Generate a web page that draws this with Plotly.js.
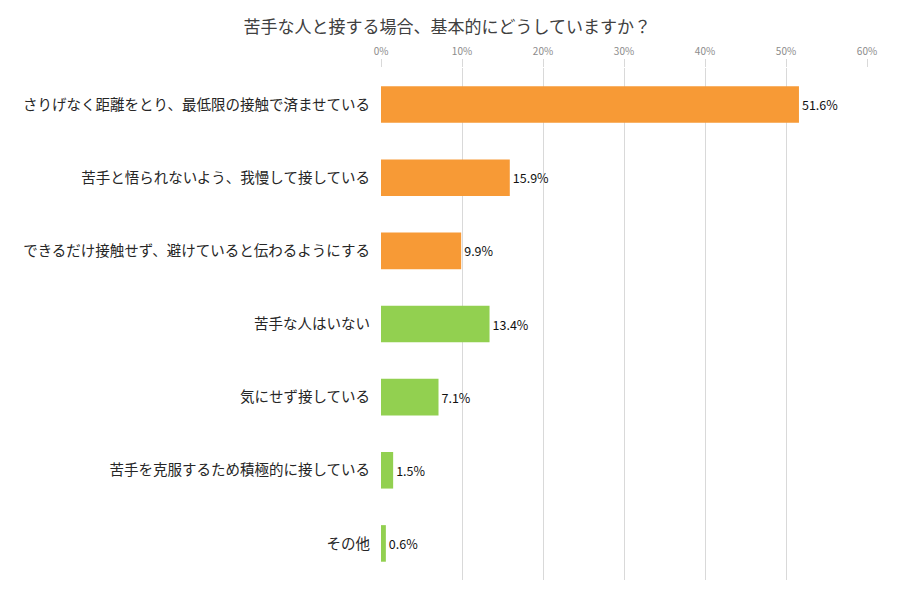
<!DOCTYPE html>
<html>
<head>
<meta charset="utf-8">
<script src="https://cdn.plot.ly/plotly-3.0.1.min.js"></script>
<style>body{margin:0;background:#fff;}#chart{width:900px;height:600px;}</style>
</head>
<body>
<div id="chart"></div>
<script>
const categories = [
  "さりげなく距離をとり、最低限の接触で済ませている",
  "苦手と悟られないよう、我慢して接している",
  "できるだけ接触せず、避けていると伝わるようにする",
  "苦手な人はいない",
  "気にせず接している",
  "苦手を克服するため積極的に接している",
  "その他"
];
const values = [51.6, 15.9, 9.9, 13.4, 7.1, 1.5, 0.6];
const barColors = ["#F79A36", "#F79A36", "#F79A36", "#92D050", "#92D050", "#92D050", "#92D050"];
const tickValues = [0, 10, 20, 30, 40, 50, 60];
const tickLabels = ["0%", "10%", "20%", "30%", "40%", "50%", "60%"];

const font = '"Noto Sans CJK JP", "Noto Sans", sans-serif';

Plotly.newPlot("chart", [{
  type: "bar",
  orientation: "h",
  y: categories,
  x: values,
  width: 0.5,
  marker: {color: barColors},
  text: values.map(v => v.toFixed(1) + "%"),
  textposition: "outside",
  cliponaxis: false,
  textfont: {family: font, size: 12.5, color: "#111"},
  hoverinfo: "none"
}], {
  width: 900, height: 600,
  margin: {l: 381, r: 33, t: 68, b: 20},
  paper_bgcolor: "#fff", plot_bgcolor: "#fff",
  font: {family: font},
  title: {text: "苦手な人と接する場合、基本的にどうしていますか？", x: 0.497, xanchor: "center", y: 0.955, yanchor: "middle",
          font: {family: font, size: 17, color: "#404040"}},
  bargap: 0.5,
  showlegend: false,
  xaxis: {
    side: "top", range: [0, 60], tickvals: tickValues, ticktext: tickLabels,
    showgrid: true, gridcolor: "#D9D9D9", gridwidth: 1,
    zeroline: false, showline: false,
    ticks: "outside", ticklen: 8, tickcolor: "#D9D9D9",
    tickfont: {family: font, size: 10, color: "#8C8C8C"},
    fixedrange: true
  },
  yaxis: {
    autorange: "reversed", showgrid: false, zeroline: false, showline: false,
    ticks: "", ticklabelstandoff: 10,
    tickfont: {family: font, size: 14.5, color: "#262626"},
    fixedrange: true
  }
}, {displayModeBar: false, staticPlot: true});
</script>
</body>
</html>
